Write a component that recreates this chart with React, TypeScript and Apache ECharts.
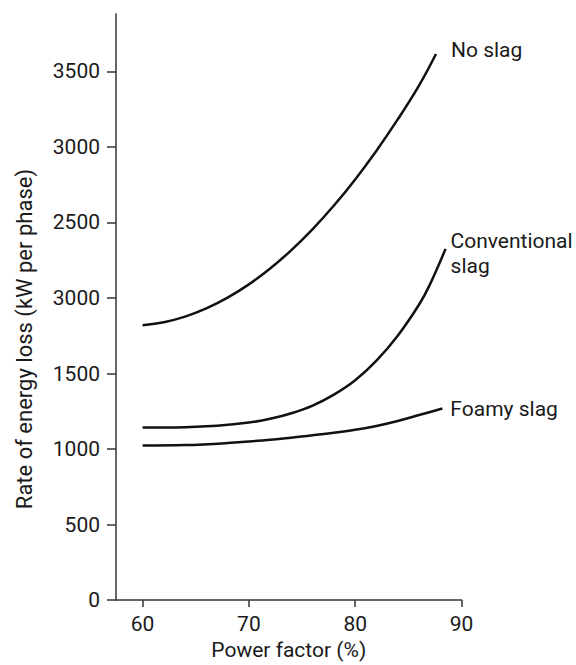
import React, { useEffect, useRef } from "react";
import * as echarts from "echarts";

const noSlagX = [60, 62, 64, 66, 68, 70, 72, 74, 76, 78, 80, 82, 84, 86, 87.6];
const noSlagY = [1820, 1840, 1877, 1931, 2002, 2090, 2195, 2317, 2456, 2612, 2785, 2975, 3182, 3406, 3615];

const convX = [60, 64, 67, 70, 72, 74, 76, 78, 80, 82, 84, 86, 87, 88.5];
const convY = [1143, 1145, 1154, 1175, 1200, 1237, 1288, 1360, 1455, 1585, 1750, 1955, 2085, 2325];

const foamyX = [60, 64, 68, 72, 76, 78, 80, 82, 84, 86, 88.2];
const foamyY = [1023, 1026, 1040, 1062, 1092, 1108, 1127, 1153, 1186, 1225, 1268];

const seriesNames = ["No slag", "Conventional\nslag", "Foamy slag"];

const xTickValues = [60, 70, 80, 90];
const yTickValues = [0, 500, 1000, 1500, 2000, 2500, 3000, 3500];
const yTickLabels = ["0", "500", "1000", "1500", "3000", "2500", "3000", "3500"];

const xTitle = "Power factor (%)";
const yTitle = "Rate of energy loss (kW per phase)";

const FONT = "Roboto";
const INK = "#111";
const AXIS = "#333";
const TEXT = "#1a1a1a";

export default function App() {
  const ref = useRef<HTMLDivElement>(null);
  useEffect(() => {
    if (!ref.current) return;
    const chart = echarts.init(ref.current, null, { renderer: "svg" });
    const pairs = (xs: number[], ys: number[]) => xs.map((x, i) => [x, ys[i]]);
    const mk = (name: string, data: number[][], distance: number, dy: number) => ({
      type: "line",
      name,
      data,
      smooth: 0.4,
      showSymbol: false,
      symbol: "none",
      lineStyle: { color: INK, width: 2.5 },
      endLabel: {
        show: true,
        formatter: name,
        distance,
        offset: [0, dy],
        fontFamily: FONT,
        fontSize: 21,
        lineHeight: 25,
        color: TEXT,
      },
    });
    chart.setOption({
      animation: false,
      backgroundColor: "#fff",
      grid: { left: 116, right: 114.5, top: 14, bottom: 61 },
      xAxis: {
        type: "value",
        min: 57.5,
        max: 90,
        name: xTitle,
        nameLocation: "middle",
        nameGap: 37,
        nameTextStyle: { fontFamily: FONT, fontSize: 21, color: TEXT },
        axisLine: { show: true, lineStyle: { color: AXIS, width: 1.5 } },
        axisTick: { show: true, customValues: xTickValues, length: 7, lineStyle: { color: AXIS, width: 1.5 } },
        axisLabel: { customValues: xTickValues, fontFamily: FONT, fontSize: 21, color: TEXT, margin: 13 },
        splitLine: { show: false },
      },
      yAxis: {
        type: "value",
        min: 0,
        max: 3880,
        name: yTitle,
        nameLocation: "middle",
        nameGap: 81,
        nameTextStyle: { fontFamily: FONT, fontSize: 22, color: TEXT, padding: [0, 64, 0, 0] },
        axisLine: { show: true, lineStyle: { color: AXIS, width: 1.5 } },
        axisTick: { show: true, customValues: yTickValues, length: 9, lineStyle: { color: AXIS, width: 1.5 } },
        axisLabel: {
          customValues: yTickValues,
          fontFamily: FONT,
          fontSize: 21,
          color: TEXT,
          margin: 16,
          formatter: (v: number) => {
            const i = yTickValues.indexOf(v);
            return i >= 0 ? yTickLabels[i] : "";
          },
        },
        splitLine: { show: false },
      },
      series: [
        mk(seriesNames[0], pairs(noSlagX, noSlagY), 15, -4),
        mk(seriesNames[1], pairs(convX, convY), 5, 5),
        mk(seriesNames[2], pairs(foamyX, foamyY), 8, 0),
      ],
    });
    return () => chart.dispose();
  }, []);
  return (
    <div
      ref={ref}
      style={{ position: "absolute", left: 0, top: 0, width: 576, height: 665 }}
    />
  );
}
